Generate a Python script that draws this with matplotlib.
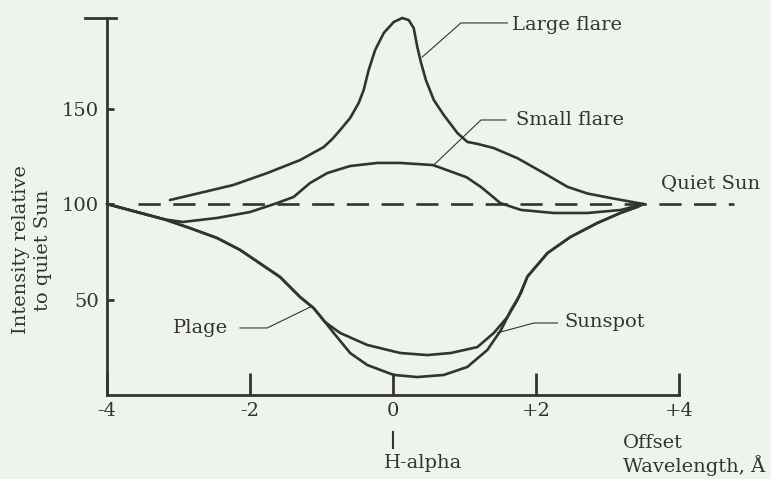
import matplotlib
matplotlib.use('Agg')
from matplotlib import pyplot as plt

# offset from the H-alpha line centre (Angstrom) and intensity relative to quiet Sun
large_x = [-3.12, -2.70, -2.23, -1.76, -1.30, -0.97, -0.85, -0.74, -0.60, -0.48, -0.41,
           -0.34, -0.25, -0.13, 0.01, 0.13, 0.22, 0.29, 0.34, 0.39, 0.46, 0.57, 0.71,
           0.90, 1.04, 1.18, 1.41, 1.74, 2.11, 2.44, 2.72, 3.05, 3.50]
large_y = [102.1, 105.8, 110.0, 116.2, 123.0, 129.8, 134.0, 138.7, 145.0, 152.9, 159.7,
           170.2, 180.6, 189.5, 195.3, 197.4, 196.3, 192.1, 182.2, 174.3, 164.9, 154.5, 146.6,
           137.2, 132.5, 131.5, 129.3, 124.0, 116.2, 109.0, 105.5, 103.1, 100]

small_x = [-4.0, -3.58, -3.2, -2.94, -2.46, -2.0, -1.62, -1.39, -1.16, -0.92, -0.60,
           -0.22, 0.10, 0.56, 1.03, 1.23, 1.40, 1.50, 1.79, 2.25, 2.72, 3.19, 3.50]
small_y = [100, 95.8, 92.0, 90.6, 92.7, 95.8, 100.5, 103.7, 111.0, 116.2, 119.9,
           121.5, 121.5, 120.4, 114.0, 108.9, 103.7, 100.5, 96.9, 95.3, 95.3, 96.9, 100]

plage_x = [-4.0, -3.58, -3.2, -2.84, -2.46, -2.14, -1.58, -1.30, -1.11, -0.95, -0.74,
           -0.36, 0.10, 0.48, 0.81, 1.18, 1.41, 1.60, 1.74, 1.88, 2.16, 2.48, 2.86,
           3.18, 3.41, 3.50]
plage_y = [100, 95.8, 92.0, 87.4, 82.2, 76.0, 61.8, 51.3, 45.5, 38.2, 32.5,
           26.2, 22.0, 20.9, 22.0, 25.1, 32.5, 40.8, 49.7, 62.0, 74.3, 82.7, 90.1,
           95.3, 98.4, 100]

spot_x = [-4.0, -3.58, -3.2, -2.84, -2.46, -2.14, -1.58, -1.30, -1.11, -0.95, -0.83,
          -0.60, -0.36, 0.01, 0.34, 0.71, 1.04, 1.32, 1.51, 1.65, 1.79, 1.88, 2.16,
          2.48, 2.86, 3.18, 3.41, 3.50]
spot_y = [100, 95.8, 92.0, 87.4, 82.2, 76.0, 61.8, 51.3, 45.5, 38.2, 32.5,
          22.0, 15.7, 10.5, 9.4, 10.5, 14.7, 23.6, 34.0, 44.5, 53.4, 62.0, 74.3,
          82.7, 90.1, 95.3, 98.4, 100]

quiet_level = 100
quiet_span = [-3.57, 4.77]

x_ticks = [-4, -2, 0, 2, 4]
x_tick_labels = ['-4', '-2', '0', '+2', '+4']
y_ticks = [50, 100, 150]

bg = '#eef4ec'
ink = '#333333'
fs = 14
plt.rcParams['font.family'] = ['DejaVu Serif']
plt.rcParams['lines.scale_dashes'] = False

fig = plt.figure(figsize=(7.71, 4.79), dpi=100, facecolor=bg)
ax = fig.add_axes([107/771, 84/479, (679-107)/771, (395-18)/479])
ax.set_facecolor(bg)

lw = 1.9
for xs, ys in [(large_x, large_y), (small_x, small_y), (plage_x, plage_y), (spot_x, spot_y)]:
    ax.plot(xs, ys, color=ink, lw=lw, solid_joinstyle='round', solid_capstyle='round',
            clip_on=False)

# quiet Sun dashed reference
ax.plot(quiet_span, [quiet_level, quiet_level], color=ink, lw=lw,
        dashes=(16, 9), clip_on=False)

ax.set_xlim(-4, 4)
ax.set_ylim(0, 197.4)
for s in ['top', 'right']:
    ax.spines[s].set_visible(False)
for s in ['left', 'bottom']:
    ax.spines[s].set_linewidth(2.0)
    ax.spines[s].set_color(ink)

ax.set_xticks(x_ticks)
ax.set_xticklabels(x_tick_labels)
ax.set_yticks(y_ticks)
ax.tick_params(axis='x', direction='in', length=16, width=2.0, color=ink,
               labelsize=fs, labelcolor=ink, pad=5)
ax.tick_params(axis='y', direction='in', length=5, width=2.0, color=ink,
               labelsize=fs, labelcolor=ink, pad=6)

# cap on top of y axis
ax.plot([-4.31, -3.87], [197.4, 197.4], color=ink, lw=2.0, clip_on=False)

fig.text(32/771, 1 - 250/479, 'Intensity relative\nto quiet Sun', fontsize=fs, color=ink,
         rotation=90, ha='center', va='center', linespacing=1.25)

# curve labels with pointers
thin = 0.8
ax.plot([0.41, 0.95, 1.60], [177, 194.8, 194.8], color=ink, lw=thin, clip_on=False)
ax.text(1.67, 193.7, 'Large flare', fontsize=fs, color=ink, va='center', ha='left')

ax.plot([0.57, 1.23, 1.58], [120.4, 144, 144], color=ink, lw=thin, clip_on=False)
ax.text(1.72, 144, 'Small flare', fontsize=fs, color=ink, va='center', ha='left')

ax.text(3.75, 111, 'Quiet Sun', fontsize=fs, color=ink, va='center', ha='left')

ax.plot([-2.14, -1.76, -1.16], [35.1, 35.1, 46], color=ink, lw=thin, clip_on=False)
ax.text(-2.30, 35.1, 'Plage', fontsize=fs, color=ink, va='center', ha='right')

ax.plot([1.46, 1.97, 2.30], [32.5, 37.7, 37.7], color=ink, lw=thin, clip_on=False)
ax.text(2.39, 38.2, 'Sunspot', fontsize=fs, color=ink, va='center', ha='left')

# H-alpha marker below the axis
ax.plot([0, 0], [-19.4, -27.7], color=ink, lw=1.5, clip_on=False)
ax.text(-0.13, -35.5, 'H-alpha', fontsize=fs, color=ink, va='center', ha='left')

ax.text(3.22, -25, 'Offset', fontsize=fs, color=ink, va='center', ha='left')
ax.text(3.22, -37, 'Wavelength, Å', fontsize=fs, color=ink, va='center', ha='left')

plt.savefig('out.png', dpi=100, facecolor=bg)
